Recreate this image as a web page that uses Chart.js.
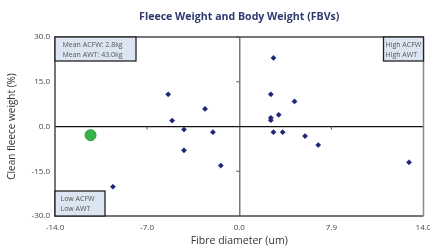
<!DOCTYPE html>
<html>
<head>
<meta charset="utf-8">
<script src="https://cdn.jsdelivr.net/npm/chart.js@4/dist/chart.umd.min.js"></script>
<style>
html,body{margin:0;padding:0;background:#fff;overflow:hidden;}
canvas{display:block;}
</style>
</head>
<body>
<canvas id="c" width="430" height="247"></canvas>
<script>
// ---- data ----
const chartTitle = "Fleece Weight and Body Weight (FBVs)";
const xAxisTitle = "Fibre diameter (um)";
const yAxisTitle = "Clean fleece weight (%)";
const xTickValues = [-14, -7, 0, 7, 14];
const xTickLabels = ["-14.0", "-7.0", "0.0", "7.9", "14.0"];
const yTickValues = [-30, -15, 0, 15, 30];
const yTickLabels = ["-30.0", "-15.0", "0.0", "15.0", "30.0"];
const sireFD  = [-5.4, -5.1, -4.2, -2.6, -4.2, -2.0, -1.4, -9.6, 2.6, 2.4, 4.2, 3.0, 2.4, 2.4, 2.6, 3.3, 5.0, 6.0, 12.9];
const sireCFW = [10.8, 2.0, -1.0, 5.9, -8.0, -1.9, -13.1, -20.2, 23.0, 10.8, 8.4, 3.9, 2.9, 2.1, -1.9, -1.9, -3.2, -6.2, -12.0];
const highlightFD  = [-11.3];
const highlightCFW = [-2.9];
const meanText = ["Mean ACFW: 2.8kg", "Mean AWT: 43.0kg"];
const highText = ["High ACFW", "High AWT"];
const lowText  = ["Low ACFW", "Low AWT"];

const pts = sireFD.map((x, i) => ({x, y: sireCFW[i]}));
const hpts = highlightFD.map((x, i) => ({x, y: highlightCFW[i]}));

const FONT = "'Open Sans', 'DejaVu Sans', sans-serif";

const overlay = {
  id: 'overlay',
  afterDraw(chart) {
    const ctx = chart.ctx, a = chart.chartArea;
    const xs = chart.scales.x, ys = chart.scales.y;
    ctx.save();
    // frame
    ctx.lineWidth = 1.5;
    ctx.strokeStyle = '#4a4a4a';
    ctx.beginPath();
    ctx.moveTo(a.right, a.top); ctx.lineTo(a.left, a.top);
    ctx.lineTo(a.left, a.bottom); ctx.lineTo(a.right, a.bottom);
    ctx.stroke();
    ctx.strokeStyle = '#8a8a8a';
    ctx.beginPath(); ctx.moveTo(a.right, a.top); ctx.lineTo(a.right, a.bottom); ctx.stroke();
    // small tick marks on the zero axes
    const x0 = xs.getPixelForValue(0), y0 = ys.getPixelForValue(0);
    ctx.lineWidth = 1; ctx.strokeStyle = '#555';
    [-7, 7].forEach(v => { const px = xs.getPixelForValue(v); ctx.beginPath(); ctx.moveTo(px, y0); ctx.lineTo(px, y0 + 3); ctx.stroke(); });
    [-15, 15, 30].forEach(v => { const py = ys.getPixelForValue(v); ctx.beginPath(); ctx.moveTo(x0 - 3, py); ctx.lineTo(x0, py); ctx.stroke(); });
    // annotation boxes
    function box(x1, y1, x2, y2, lines, tx, ty) {
      ctx.fillStyle = '#dce6f2';
      ctx.fillRect(x1, y1, x2 - x1, y2 - y1);
      ctx.strokeStyle = '#222'; ctx.lineWidth = 1.3;
      ctx.strokeRect(x1, y1, x2 - x1, y2 - y1);
      ctx.fillStyle = '#555';
      ctx.font = "7px " + FONT;
      ctx.textBaseline = 'middle'; ctx.textAlign = 'left';
      lines.forEach((t, i) => ctx.fillText(t, tx, ty + i * 10));
    }
    box(a.left, a.top, a.left + 81, a.top + 24, meanText, a.left + 7.5, a.top + 8);
    box(a.right - 40, a.top, a.right, a.top + 24, highText, a.right - 38, a.top + 7.5);
    box(a.left, a.bottom - 25, a.left + 50, a.bottom, lowText, a.left + 5.5, a.bottom - 17);
    // main title, centred over the plot area
    ctx.fillStyle = '#2e3a6e';
    ctx.font = "bold 10.6px " + FONT;
    ctx.textAlign = 'center'; ctx.textBaseline = 'middle';
    ctx.fillText(chartTitle, (a.left + a.right) / 2, 17);
    ctx.restore();
  }
};

new Chart(document.getElementById('c'), {
  type: 'scatter',
  data: {
    datasets: [
      { data: hpts, pointStyle: 'circle', pointRadius: 5.5, pointHoverRadius: 5.5,
        backgroundColor: '#35b34a', borderColor: '#2a9c3e', borderWidth: 1 },
      { data: pts, pointStyle: 'rectRot', pointRadius: 2.6, pointHoverRadius: 2.6,
        backgroundColor: '#1c2577', borderColor: '#1c2577', borderWidth: 0.5 }
    ]
  },
  options: {
    responsive: false,
    animation: false,
    events: [],
    layout: { padding: { top: 37, left: 0, right: 5, bottom: 0 } },
    plugins: { legend: { display: false }, title: { display: false }, tooltip: { enabled: false } },
    scales: {
      x: {
        type: 'linear', min: -14, max: 14,
        afterBuildTicks(s) { s.ticks = xTickValues.map(v => ({value: v})); },
        afterFit(s) { s.height = 31; s.paddingLeft = 0; s.paddingRight = 0; },
        ticks: { callback: (v) => xTickLabels[xTickValues.indexOf(v)], color: '#444',
                 font: { family: FONT, size: 8 }, padding: 7, maxRotation: 0, autoSkip: false },
        grid: { drawTicks: false, color: (c) => c.tick && c.tick.value === 0 ? '#7a7a7a' : 'rgba(0,0,0,0)', lineWidth: 1.5 },
        border: { display: false },
        title: { display: true, text: xAxisTitle, color: '#333', font: { family: FONT, size: 10.5 }, padding: { top: 0, bottom: 0 } }
      },
      y: {
        type: 'linear', min: -30, max: 30,
        afterBuildTicks(s) { s.ticks = yTickValues.map(v => ({value: v})); },
        afterFit(s) { s.width = 55; },
        ticks: { callback: (v) => yTickLabels[yTickValues.indexOf(v)], color: '#444',
                 font: { family: FONT, size: 8 }, padding: 5, autoSkip: false },
        grid: { drawTicks: false, color: (c) => c.tick && c.tick.value === 0 ? '#111' : 'rgba(0,0,0,0)', lineWidth: 1.3 },
        border: { display: false },
        title: { display: true, text: yAxisTitle, color: '#333', font: { family: FONT, size: 10 }, padding: { top: 6, bottom: 0 } }
      }
    }
  },
  plugins: [overlay]
});
</script>
</body>
</html>
